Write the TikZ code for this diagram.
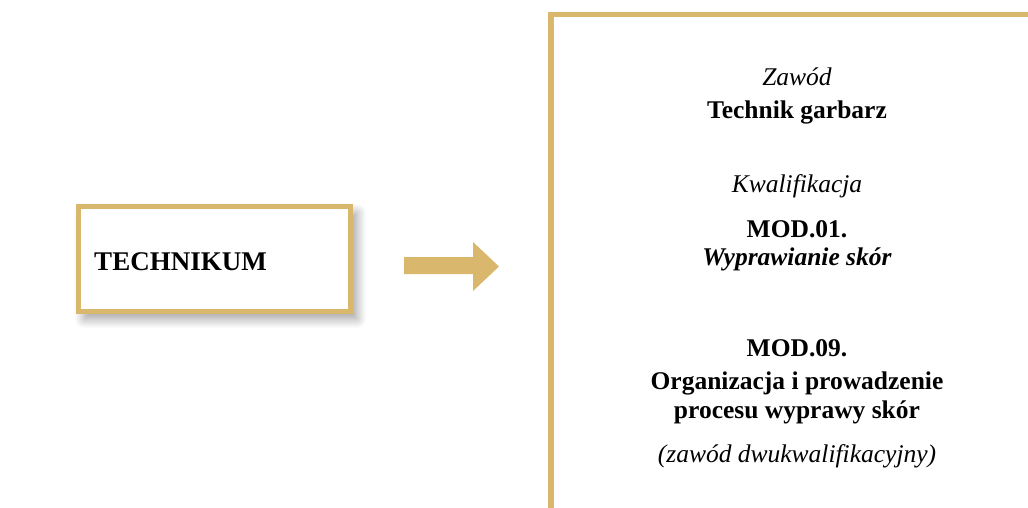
\documentclass[tikz,border=0pt]{standalone}
\usepackage{fontspec}
\setmainfont{Liberation Serif}
\usetikzlibrary{shadows.blur}
\definecolor{gold}{HTML}{D9B76C}
\tikzset{
  frame/.style={draw=gold, line width=5pt},
  txt/.style={anchor=base, inner sep=0pt},
  it/.style={txt, font=\fontsize{25.5}{28}\selectfont\itshape},
  bf/.style={txt, font=\fontsize{25.5}{28}\selectfont\bfseries},
}
\begin{document}
\begin{tikzpicture}[x=1pt,y=-1pt]
\useasboundingbox (0,0) rectangle (1028,508);
% left box
\node[frame, fill=white, minimum width=272pt, minimum height=105pt, inner sep=0pt,
  blur shadow={shadow xshift=6pt, shadow yshift=-7pt, shadow blur radius=10pt, shadow blur steps=15, shadow opacity=40}]
  (tech) at (214.5,259) {};
\node[txt, font=\fontsize{27}{30}\selectfont\bfseries] (techt) at (180.5,270) {TECHNIKUM};
% arrow
\coordinate (a1) at (404,257);
\fill[gold] (a1) -- (473,257) -- (473,242) -- (499,266.5) -- (473,291) -- (473,274) -- (404,274) -- cycle;
% right box
\coordinate (rb) at (550.75,520);
\coordinate (rt) at (1040,14.75);
\draw[gold, line width=5.5pt] (rb) |- (rt);
% text
\node[it] (zaw) at (797,86) {Zawód};
\node[bf] (tg) at (797,119) {Technik garbarz};
\node[it] (kw) at (797,193) {Kwalifikacja};
\node[bf] (m1) at (797,237) {MOD.01.};
\node[txt, font=\fontsize{25.5}{28}\selectfont\bfseries\itshape] (m1n) at (797,265) {Wyprawianie skór};
\node[bf] (m9) at (797,356) {MOD.09.};
\node[bf] (m9a) at (797,389) {Organizacja i prowadzenie};
\node[bf] (m9b) at (797,418) {procesu wyprawy skór};
\node[it] (dw) at (797,462) {(zawód dwukwalifikacyjny)};
\end{tikzpicture}
\end{document}
